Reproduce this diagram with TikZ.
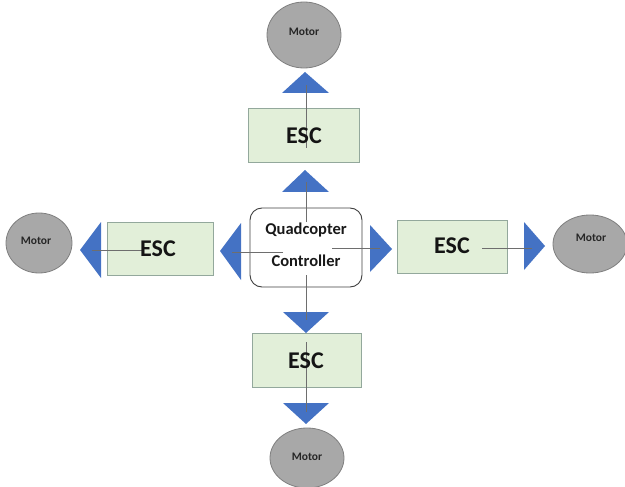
\documentclass[tikz,border=0pt]{standalone}
\usepackage{fontspec}
\setmainfont{Carlito}
\usetikzlibrary{positioning}
\definecolor{escfill}{HTML}{E2EFD9}
\definecolor{escdraw}{HTML}{93A89C}
\definecolor{tri}{HTML}{4472C4}
\definecolor{motfill}{HTML}{A8A8A8}
\definecolor{motdraw}{HTML}{7F7F7F}
\definecolor{wire}{HTML}{6E6E6E}
\begin{document}
\begin{tikzpicture}[x=1pt,y=-1pt,
  escbox/.style={draw=escdraw,fill=escfill,line width=1pt,inner sep=0pt},
  ctrlbox/.style={draw=black!75,fill=white,rounded corners=12pt,line width=0.9pt,inner sep=0pt},
  motor/.style={draw=motdraw,fill=motfill,line width=0.8pt},
  wireline/.style={draw=wire,line width=0.8pt},
  tri/.style={fill=tri},
  esctext/.style={font=\bfseries\fontsize{24}{26}\selectfont,text=black!92},
  mottext/.style={font=\bfseries\fontsize{11.5}{13}\selectfont,text=black!85},
  ctrltext/.style={font=\bfseries\fontsize{16.5}{18}\selectfont,text=black!90}]
\useasboundingbox (0,0) rectangle (625,487);
% boxes
\path[escbox] (248,109) rectangle (359,163);
\path[escbox] (107,222) rectangle (213,275);
\path[escbox] (397,220) rectangle (507,273);
\path[escbox] (252,333) rectangle (361,387);
\path[ctrlbox] (250,208) rectangle (362,287);
% motors
\path[motor] (304,35) ellipse [x radius=37,y radius=33];
\path[motor] (39,243) ellipse [x radius=33,y radius=30];
\path[motor] (590,244) ellipse [x radius=37,y radius=29];
\path[motor] (307,458) ellipse [x radius=37,y radius=30];
% triangles
\fill[tri] (305,72) -- (282,93) -- (329,93) -- cycle;
\fill[tri] (305,170) -- (282,192) -- (329,192) -- cycle;
\fill[tri] (283,312) -- (329,312) -- (306,333) -- cycle;
\fill[tri] (283,403) -- (329,403) -- (306,424) -- cycle;
\fill[tri] (220,251) -- (241,223) -- (241,280) -- cycle;
\fill[tri] (80,250) -- (101,222) -- (101,278) -- cycle;
\fill[tri] (370,225) -- (370,272) -- (392,249) -- cycle;
\fill[tri] (524,222) -- (524,270) -- (545,246) -- cycle;
% connector end points
\coordinate (ct) at (306,222);
\coordinate (t2) at (306,182);
\coordinate (et) at (306,148);
\coordinate (t1) at (306,85);
\coordinate (cb) at (306,275);
\coordinate (b1) at (306,320);
\coordinate (eb) at (306,342);
\coordinate (b2) at (306,412);
\coordinate (cl) at (283,252);
\coordinate (l1) at (232,252);
\coordinate (el) at (143,250);
\coordinate (l2) at (92,250);
\coordinate (cr) at (332,248);
\coordinate (r1) at (380,248);
\coordinate (er) at (482,248);
\coordinate (r2) at (532,248);
\draw[wireline] (ct) -- (t2);
\draw[wireline] (et) -- (t1);
\draw[wireline] (cb) -- (b1);
\draw[wireline] (eb) -- (b2);
\draw[wireline] (cl) -- (l1);
\draw[wireline] (el) -- (l2);
\draw[wireline] (cr) -- (r1);
\draw[wireline] (er) -- (r2);
% texts
\node[esctext] (esct) at (304,136) {ESC};
\node[esctext] (escl) at (158,249) {ESC};
\node[esctext] (escr) at (452,246) {ESC};
\node[esctext] (escb) at (306,361) {ESC};
\node[ctrltext] (q1) at (306,230) {Quadcopter};
\node[ctrltext] (q2) at (306,261) {Controller};
\node[mottext] (mt) at (304,32) {Motor};
\node[mottext] (ml) at (36,241) {Motor};
\node[mottext] (mr) at (591,238) {Motor};
\node[mottext] (mb) at (307,457) {Motor};
\end{tikzpicture}
\end{document}
